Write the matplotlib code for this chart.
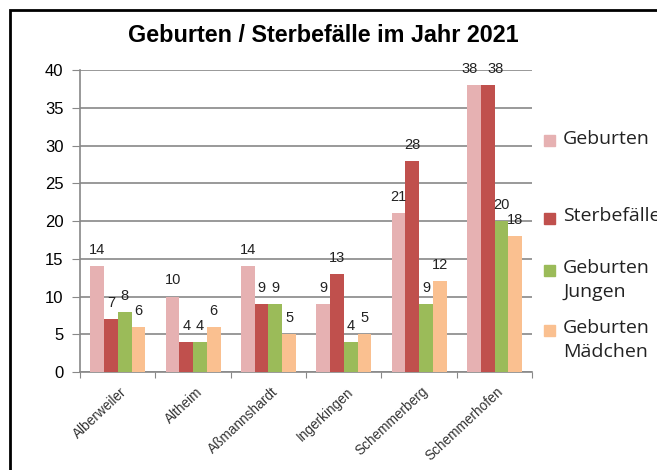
import matplotlib.pyplot as plt
import matplotlib.patches as pts
import numpy as np

orte = ['Alberweiler', 'Altheim', 'Aßmannshardt', 'Ingerkingen', 'Schemmerberg', 'Schemmerhofen']
geburten = [14, 10, 14, 9, 21, 38]
sterbefaelle = [7, 4, 9, 13, 28, 38]
jungen = [8, 4, 9, 4, 9, 20]
maedchen = [6, 6, 5, 5, 12, 18]
serien = ['Geburten', 'Sterbefälle', 'Geburten\nJungen', 'Geburten\nMädchen']
farben = ['#E6B1B2', '#C0504D', '#9BBB59', '#FAC090']

fig = plt.figure(figsize=(6.57, 4.70), dpi=100)
ax = fig.add_axes([0.122, 0.2085, 0.688, 0.6425])

x = np.arange(len(orte))
w = 0.182
alle = [geburten, sterbefaelle, jungen, maedchen]
for i, werte in enumerate(alle):
    pos = x + (i - 1.5) * w
    ax.bar(pos, werte, w, color=farben[i], zorder=3)
    for j, (p, v) in enumerate(zip(pos, werte)):
        # Beschriftungen auseinander schieben, wenn Nachbar gleich hoch
        dx = 0
        if i > 0 and abs(alle[i - 1][j] - v) < 2 and v > 15:
            dx = 0.1
        if i < 3 and abs(alle[i + 1][j] - v) < 2 and v > 15:
            dx = -0.06
        ax.text(p + dx, v + 1.2, str(v), ha='center', va='bottom', fontsize=10.5,
                family='Liberation Sans', color='#222222', zorder=4)

ax.set_xlim(-0.5, 5.5)
ax.set_ylim(0, 40)
ax.set_yticks(range(0, 41, 5))
ax.yaxis.grid(True, color='#888888', linewidth=1.2, zorder=0)
ax.set_xticks(np.arange(-0.5, 6, 1), minor=False)
ax.set_xticklabels([])
ax.set_xticks(x + 0.03, minor=True)
ax.set_xticklabels(orte, minor=True, rotation=43, ha='right', rotation_mode='anchor',
                   fontsize=9.8, family='Liberation Sans', color='#333333')
ax.tick_params(axis='x', which='minor', length=0, pad=9)
ax.tick_params(axis='x', which='major', length=4, color='#888888')
ax.tick_params(axis='y', length=6, color='#888888', labelsize=12, pad=6)
for lbl in ax.get_yticklabels():
    lbl.set_family('Liberation Sans')
for s in ['top', 'right']:
    ax.spines[s].set_visible(False)
for s in ['left', 'bottom']:
    ax.spines[s].set_color('#888888')
    ax.spines[s].set_linewidth(1.2)

fig.text(0.492, 0.925, 'Geburten / Sterbefälle im Jahr 2021', ha='center', va='center',
         fontsize=16.8, fontweight='bold', family='Liberation Sans')

# Legende
leg_y = [141, 218, 270, 330]
for farbe, name, yy in zip(farben, serien, leg_y):
    fig.patches.append(pts.Rectangle((544 / 657, 1 - (yy + 5.5) / 470), 11 / 657, 11 / 470,
                                     transform=fig.transFigure, color=farbe))
    fig.text(563 / 657, 1 - (yy - 11) / 470, name, ha='left', va='top', fontsize=14,
             family='Open Sans', color='#222222', linespacing=1.45)

# schwarzer Rahmen
fig.patches.append(pts.Rectangle((10 / 657, -0.1), 1.2, 1 - 10 / 470 + 0.1,
                                 transform=fig.transFigure, fill=False,
                                 edgecolor='black', linewidth=2))

fig.savefig('out.png', dpi=100)
